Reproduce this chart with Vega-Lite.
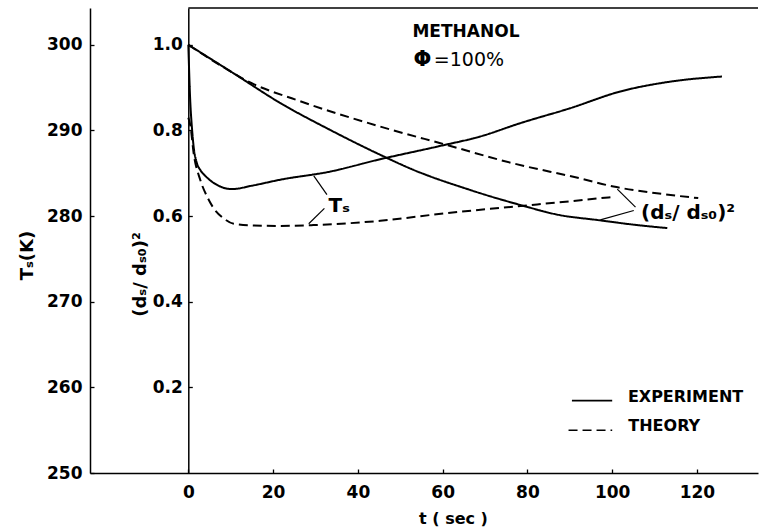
{
  "$schema": "https://vega.github.io/schema/vega-lite/v6.json",
  "width": 668,
  "height": 465,
  "autosize": "none",
  "padding": {"left": 90, "top": 8, "right": 3, "bottom": 58},
  "background": "white",
  "config": {
    "view": {"stroke": null},
    "axis": {
      "grid": false,
      "domainColor": "black",
      "tickColor": "black",
      "labelColor": "black",
      "titleColor": "black",
      "labelFont": "DejaVu Sans",
      "titleFont": "DejaVu Sans",
      "labelFontWeight": "bold",
      "labelFontSize": 17,
      "titleFontSize": 18,
      "titleFontWeight": "bold",
      "domainWidth": 1.5,
      "tickWidth": 1.3,
      "tickSize": -4
    },
    "text": {"font": "DejaVu Sans", "color": "black"}
  },
  "datasets": {
    "temperature": [
      {"t": 0, "T": 300, "kind": "experiment"},
      {"t": 0.4, "T": 294, "kind": "experiment"},
      {"t": 0.9, "T": 290, "kind": "experiment"},
      {"t": 1.25, "T": 288.1, "kind": "experiment"},
      {"t": 2, "T": 286.2, "kind": "experiment"},
      {"t": 2.8, "T": 285.4, "kind": "experiment"},
      {"t": 4.2, "T": 284.6, "kind": "experiment"},
      {"t": 5.9, "T": 283.9, "kind": "experiment"},
      {"t": 7.8, "T": 283.4, "kind": "experiment"},
      {"t": 10.3, "T": 283.15, "kind": "experiment"},
      {"t": 15, "T": 283.55, "kind": "experiment"},
      {"t": 21.7, "T": 284.25, "kind": "experiment"},
      {"t": 33.5, "T": 285.2, "kind": "experiment"},
      {"t": 44.5, "T": 286.55, "kind": "experiment"},
      {"t": 59.5, "T": 288.2, "kind": "experiment"},
      {"t": 68.9, "T": 289.3, "kind": "experiment"},
      {"t": 78.3, "T": 290.85, "kind": "experiment"},
      {"t": 90.1, "T": 292.6, "kind": "experiment"},
      {"t": 101.9, "T": 294.55, "kind": "experiment"},
      {"t": 113.7, "T": 295.7, "kind": "experiment"},
      {"t": 125.9, "T": 296.3, "kind": "experiment"},
      {"t": 0, "T": 291.5, "kind": "theory"},
      {"t": 0.5, "T": 290.5, "kind": "theory"},
      {"t": 1.25, "T": 287.35, "kind": "theory"},
      {"t": 2.8, "T": 284.25, "kind": "theory"},
      {"t": 4.4, "T": 282.3, "kind": "theory"},
      {"t": 6, "T": 280.9, "kind": "theory"},
      {"t": 8.3, "T": 279.75, "kind": "theory"},
      {"t": 10.7, "T": 279.1, "kind": "theory"},
      {"t": 15, "T": 278.9, "kind": "theory"},
      {"t": 21.7, "T": 278.85, "kind": "theory"},
      {"t": 29.5, "T": 278.95, "kind": "theory"},
      {"t": 45.3, "T": 279.45, "kind": "theory"},
      {"t": 61, "T": 280.35, "kind": "theory"},
      {"t": 76.7, "T": 281.1, "kind": "theory"},
      {"t": 92.5, "T": 281.85, "kind": "theory"},
      {"t": 100.4, "T": 282.25, "kind": "theory"}
    ],
    "diameter": [
      {"t": 0, "r": 1.0, "kind": "experiment"},
      {"t": 10.6, "r": 0.934, "kind": "experiment"},
      {"t": 21.7, "r": 0.864, "kind": "experiment"},
      {"t": 33.5, "r": 0.801, "kind": "experiment"},
      {"t": 45.3, "r": 0.743, "kind": "experiment"},
      {"t": 53.1, "r": 0.708, "kind": "experiment"},
      {"t": 66.5, "r": 0.661, "kind": "experiment"},
      {"t": 78.3, "r": 0.626, "kind": "experiment"},
      {"t": 87.8, "r": 0.602, "kind": "experiment"},
      {"t": 96.4, "r": 0.591, "kind": "experiment"},
      {"t": 105.9, "r": 0.579, "kind": "experiment"},
      {"t": 113, "r": 0.572, "kind": "experiment"},
      {"t": 0, "r": 1.0, "kind": "theory"},
      {"t": 10.6, "r": 0.934, "kind": "theory"},
      {"t": 14, "r": 0.915, "kind": "theory"},
      {"t": 25.6, "r": 0.871, "kind": "theory"},
      {"t": 45.3, "r": 0.809, "kind": "theory"},
      {"t": 61, "r": 0.766, "kind": "theory"},
      {"t": 76.7, "r": 0.723, "kind": "theory"},
      {"t": 92.5, "r": 0.688, "kind": "theory"},
      {"t": 100.3, "r": 0.669, "kind": "theory"},
      {"t": 110, "r": 0.654, "kind": "theory"},
      {"t": 120.3, "r": 0.642, "kind": "theory"}
    ],
    "frame": [
      {"t": 0, "t2": 134.4, "r": 1.086}
    ],
    "leaders": [
      {"t": 29.6, "r": 0.694, "t2": 32.7, "r2": 0.65},
      {"t": 32.1, "r": 0.618, "t2": 28.4, "r2": 0.582},
      {"t": 105.5, "r": 0.621, "t2": 101.2, "r2": 0.663},
      {"t": 105.1, "r": 0.613, "t2": 97.2, "r2": 0.591}
    ],
    "legendLines": [
      {"t": 90.5, "t2": 100, "r": 0.169, "kind": "experiment"},
      {"t": 89.7, "t2": 100, "r": 0.1, "kind": "theory"}
    ],
    "legendText": [
      {"t": 103.7, "r": 0.178, "label": "EXPERIMENT"},
      {"t": 103.8, "r": 0.11, "label": "THEORY"}
    ],
    "methanol": [
      {"t": 65.5, "r": 1.031, "label": "METHANOL"}
    ],
    "curveLabels": [
      {"t": 35.6, "r": 0.624, "label": "Tₛ"},
      {"t": 117.9, "r": 0.607, "label": "(dₛ/ dₛ₀)²"}
    ],
    "phi": [
      {"t": 55.2, "r": 0.965, "label": "Φ"}
    ],
    "percent": [
      {"t": 66.2, "r": 0.965, "label": "=100%"}
    ]
  },
  "encoding": {
    "x": {
      "field": "t",
      "type": "quantitative",
      "scale": {"domain": [-23.2, 134.4], "nice": false, "zero": false},
      "axis": {
        "values": [0, 20, 40, 60, 80, 100, 120],
        "title": "t ( sec )",
        "labelPadding": 15,
        "titleX": 363,
        "titleY": 45,
        "titleBaseline": "middle",
        "titleFontSize": 16
      }
    }
  },
  "layer": [
    {
      "layer": [
        {
          "data": {"name": "temperature"},
          "mark": {"type": "line", "interpolate": "monotone", "strokeWidth": 2, "color": "black"},
          "encoding": {
            "y": {
              "field": "T",
              "type": "quantitative",
              "scale": {"domain": [250, 304.3], "nice": false, "zero": false},
              "axis": {
                "orient": "left",
                "values": [250, 260, 270, 280, 290, 300],
                "title": "Tₛ(K)",
                "labelPadding": 12,
                "titleX": -63,
                "titleY": 247,
                "titleBaseline": "middle",
                "titleAngle": -90
              }
            },
            "strokeDash": {
              "field": "kind",
              "type": "nominal",
              "scale": {"domain": ["experiment", "theory"], "range": [[1, 0], [9, 5]]},
              "legend": null
            }
          }
        }
      ]
    },
    {
      "layer": [
        {
          "data": {"name": "diameter"},
          "mark": {"type": "line", "interpolate": "monotone", "strokeWidth": 2, "color": "black"},
          "encoding": {
            "y": {
              "field": "r",
              "type": "quantitative",
              "scale": {"domain": [0, 1.086], "nice": false, "zero": false},
              "axis": {
                "orient": "left",
                "offset": -98.3,
                "values": [0.2, 0.4, 0.6, 0.8, 1.0],
                "format": ".1f",
                "title": "(dₛ/ dₛ₀)²",
                "labelPadding": 10,
                "titleX": -48,
                "titleY": 266,
                "titleBaseline": "middle",
                "titleAngle": -90
              }
            },
            "strokeDash": {
              "field": "kind",
              "type": "nominal",
              "scale": {"domain": ["experiment", "theory"], "range": [[1, 0], [9, 5]]},
              "legend": null
            }
          }
        },
        {
          "data": {"name": "frame"},
          "mark": {"type": "rule", "strokeWidth": 1.5, "color": "black"},
          "encoding": {
            "x2": {"field": "t2"},
            "y": {"field": "r", "type": "quantitative"}
          }
        },
        {
          "data": {"name": "leaders"},
          "mark": {"type": "rule", "strokeWidth": 1.2, "color": "black"},
          "encoding": {
            "x2": {"field": "t2"},
            "y": {"field": "r", "type": "quantitative"},
            "y2": {"field": "r2"}
          }
        },
        {
          "data": {"name": "legendLines"},
          "mark": {"type": "rule", "strokeWidth": 1.6, "color": "black"},
          "encoding": {
            "x2": {"field": "t2"},
            "y": {"field": "r", "type": "quantitative"},
            "strokeDash": {
              "field": "kind",
              "type": "nominal",
              "scale": {"domain": ["experiment", "theory"], "range": [[1, 0], [9, 5]]},
              "legend": null
            }
          }
        },
        {
          "data": {"name": "legendText"},
          "mark": {"type": "text", "align": "left", "baseline": "middle", "fontSize": 16, "fontWeight": "bold"},
          "encoding": {
            "y": {"field": "r", "type": "quantitative"},
            "text": {"field": "label"}
          }
        },
        {
          "data": {"name": "methanol"},
          "mark": {"type": "text", "align": "center", "baseline": "middle", "fontSize": 17, "fontWeight": "bold"},
          "encoding": {
            "y": {"field": "r", "type": "quantitative"},
            "text": {"field": "label"}
          }
        },
        {
          "data": {"name": "curveLabels"},
          "mark": {"type": "text", "align": "center", "baseline": "middle", "fontSize": 20, "fontWeight": "bold"},
          "encoding": {
            "y": {"field": "r", "type": "quantitative"},
            "text": {"field": "label"}
          }
        },
        {
          "data": {"name": "phi"},
          "mark": {"type": "text", "align": "center", "baseline": "middle", "fontSize": 21, "fontWeight": "bold"},
          "encoding": {
            "y": {"field": "r", "type": "quantitative"},
            "text": {"field": "label"}
          }
        },
        {
          "data": {"name": "percent"},
          "mark": {"type": "text", "align": "center", "baseline": "middle", "fontSize": 19},
          "encoding": {
            "y": {"field": "r", "type": "quantitative"},
            "text": {"field": "label"}
          }
        }
      ]
    }
  ],
  "resolve": {"scale": {"y": "independent"}, "axis": {"y": "independent"}}
}
